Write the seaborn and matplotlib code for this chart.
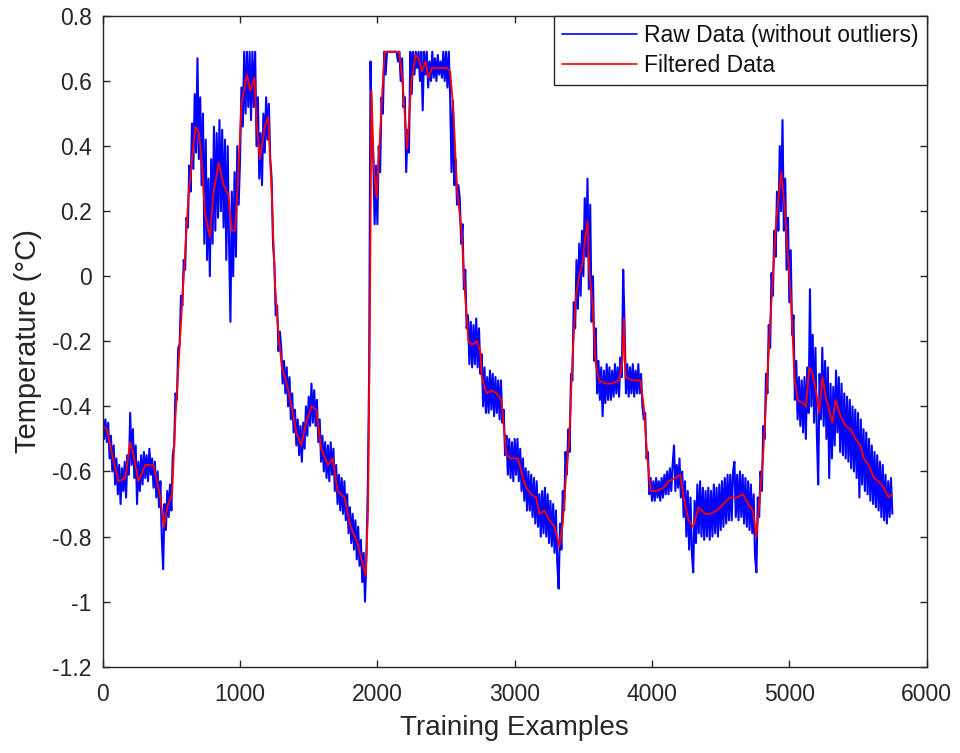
import numpy as np
import pandas as pd
import matplotlib
matplotlib.use("Agg")
import matplotlib.pyplot as plt
import seaborn as sns

# ---------------- data ----------------
raw_step = 10  # sample spacing of the raw series (training-example index)
raw_values = [
    -0.42, -0.50, -0.44, -0.51, -0.45, -0.56, -0.49, -0.60, -0.52, -0.64,   # 0
    -0.56, -0.67, -0.58, -0.70, -0.59, -0.66, -0.57, -0.68, -0.55, -0.61,   # 100
    -0.42, -0.58, -0.47, -0.62, -0.52, -0.70, -0.57, -0.66, -0.55, -0.64,   # 200
    -0.54, -0.62, -0.55, -0.63, -0.53, -0.61, -0.56, -0.65, -0.57, -0.68,   # 300
    -0.60, -0.71, -0.63, -0.80, -0.90, -0.70, -0.78, -0.66, -0.74, -0.64,   # 400
    -0.72, -0.55, -0.52, -0.36, -0.38, -0.22, -0.21, -0.06, -0.09, 0.05,    # 500
    0.02, 0.18, 0.15, 0.34, 0.26, 0.47, 0.33, 0.56, 0.38, 0.67,             # 600
    0.36, 0.55, 0.28, 0.50, 0.10, 0.42, 0.05, 0.30, 0.00, 0.36,             # 700
    0.10, 0.46, 0.14, 0.44, 0.18, 0.48, 0.20, 0.45, 0.15, 0.42,             # 800
    0.05, 0.40, 0.10, -0.14, 0.26, 0.00, 0.32, 0.06, 0.40, 0.22,            # 900
    0.36, 0.58, 0.46, 0.69, 0.50, 0.69, 0.52, 0.69, 0.48, 0.69,             # 1000
    0.52, 0.69, 0.40, 0.55, 0.30, 0.44, 0.28, 0.50, 0.38, 0.55,             # 1100
    0.42, 0.53, 0.36, 0.30, 0.10, 0.04, -0.12, -0.09, -0.23, -0.17,         # 1200
    -0.22, -0.33, -0.26, -0.36, -0.28, -0.40, -0.31, -0.44, -0.36, -0.48,   # 1300
    -0.41, -0.52, -0.44, -0.55, -0.46, -0.57, -0.45, -0.53, -0.40, -0.49,   # 1400
    -0.37, -0.46, -0.33, -0.45, -0.35, -0.46, -0.38, -0.51, -0.44, -0.57,   # 1500
    -0.49, -0.60, -0.51, -0.62, -0.52, -0.63, -0.51, -0.61, -0.53, -0.66,   # 1600
    -0.58, -0.70, -0.61, -0.72, -0.62, -0.73, -0.63, -0.75, -0.67, -0.79,   # 1700
    -0.71, -0.82, -0.73, -0.84, -0.75, -0.87, -0.77, -0.89, -0.81, -0.94,   # 1800
    -0.85, -1.00, -0.86, -0.66, -0.30, 0.66, 0.42, 0.36, 0.16, 0.34,       # 1900
    0.16, 0.40, 0.32, 0.55, 0.50, 0.69, 0.62, 0.69, 0.69, 0.69,             # 2000
    0.69, 0.69, 0.69, 0.69, 0.69, 0.66, 0.69, 0.60, 0.67, 0.52,             # 2100
    0.55, 0.32, 0.45, 0.38, 0.69, 0.56, 0.69, 0.62, 0.69, 0.64,             # 2200
    0.69, 0.60, 0.69, 0.51, 0.69, 0.62, 0.69, 0.58, 0.66, 0.60,             # 2300
    0.69, 0.61, 0.67, 0.60, 0.68, 0.62, 0.66, 0.61, 0.69, 0.60,             # 2400
    0.69, 0.58, 0.69, 0.55, 0.32, 0.54, 0.28, 0.36, 0.22, 0.28,             # 2500
    0.24, 0.10, 0.16, -0.04, 0.02, -0.16, -0.12, -0.27, -0.14, -0.28,       # 2600
    -0.15, -0.27, -0.13, -0.28, -0.16, -0.30, -0.24, -0.40, -0.28, -0.42,   # 2700
    -0.31, -0.42, -0.29, -0.41, -0.30, -0.43, -0.31, -0.42, -0.32, -0.44,   # 2800
    -0.32, -0.45, -0.41, -0.55, -0.49, -0.61, -0.50, -0.62, -0.51, -0.63,   # 2900
    -0.50, -0.61, -0.50, -0.63, -0.53, -0.66, -0.56, -0.69, -0.59, -0.72,   # 3000
    -0.60, -0.72, -0.61, -0.74, -0.62, -0.76, -0.63, -0.77, -0.67, -0.80,   # 3100
    -0.66, -0.79, -0.65, -0.80, -0.67, -0.82, -0.69, -0.83, -0.70, -0.85,   # 3200
    -0.72, -0.88, -0.96, -0.76, -0.84, -0.66, -0.72, -0.54, -0.61, -0.47,   # 3300
    -0.54, -0.30, -0.32, -0.08, -0.16, 0.05, -0.10, 0.10, -0.06, 0.14,      # 3400
    0.00, 0.24, 0.06, 0.30, -0.04, 0.22, -0.14, 0.00, -0.26, -0.16,         # 3500
    -0.36, -0.26, -0.38, -0.28, -0.43, -0.29, -0.39, -0.27, -0.38, -0.28,   # 3600
    -0.38, -0.29, -0.37, -0.27, -0.36, -0.28, -0.37, -0.25, -0.31, 0.02,    # 3700
    -0.15, -0.36, -0.27, -0.37, -0.28, -0.36, -0.27, -0.37, -0.29, -0.36,   # 3800
    -0.27, -0.36, -0.30, -0.40, -0.44, -0.42, -0.56, -0.54, -0.67, -0.62,   # 3900
    -0.69, -0.63, -0.69, -0.62, -0.68, -0.63, -0.69, -0.62, -0.68, -0.61,   # 4000
    -0.67, -0.60, -0.67, -0.59, -0.66, -0.58, -0.52, -0.66, -0.58, -0.65,   # 4100
    -0.56, -0.68, -0.60, -0.74, -0.63, -0.80, -0.66, -0.84, -0.68, -0.85,   # 4200
    -0.91, -0.69, -0.82, -0.64, -0.79, -0.63, -0.80, -0.65, -0.81, -0.66,   # 4300
    -0.80, -0.65, -0.81, -0.66, -0.80, -0.64, -0.79, -0.65, -0.80, -0.64,   # 4400
    -0.78, -0.63, -0.77, -0.62, -0.76, -0.61, -0.75, -0.61, -0.75, -0.60,   # 4500
    -0.57, -0.74, -0.61, -0.75, -0.60, -0.74, -0.61, -0.76, -0.62, -0.77,   # 4600
    -0.63, -0.78, -0.64, -0.79, -0.67, -0.86, -0.91, -0.68, -0.74, -0.60,   # 4700
    -0.66, -0.46, -0.50, -0.30, -0.36, -0.15, -0.22, 0.01, -0.06, 0.14,     # 4800
    0.06, 0.26, 0.14, 0.40, 0.20, 0.48, 0.14, 0.30, 0.02, 0.18,             # 4900
    -0.08, 0.08, -0.18, -0.12, -0.38, -0.26, -0.44, -0.31, -0.46, -0.32,    # 5000
    -0.48, -0.31, -0.50, -0.28, -0.42, -0.04, -0.40, -0.18, -0.45, -0.22,   # 5100
    -0.48, -0.64, -0.30, -0.44, -0.22, -0.46, -0.26, -0.50, -0.28, -0.62,   # 5200
    -0.33, -0.56, -0.34, -0.52, -0.29, -0.48, -0.31, -0.54, -0.33, -0.55,   # 5300
    -0.36, -0.56, -0.37, -0.57, -0.38, -0.59, -0.40, -0.60, -0.41, -0.62,   # 5400
    -0.42, -0.68, -0.44, -0.64, -0.47, -0.66, -0.48, -0.67, -0.50, -0.69,   # 5500
    -0.52, -0.70, -0.54, -0.71, -0.55, -0.72, -0.57, -0.74, -0.58, -0.75,   # 5600
    -0.61, -0.76, -0.63, -0.74, -0.62, -0.73,                               # 5700
]

filtered_x = [
    0, 30, 70, 115, 165, 200, 225, 260, 310, 370, 420, 445, 470, 505, 530,
    555, 590, 625, 660, 675, 700, 720, 745, 780, 805, 845, 880, 915, 940, 965,
    990, 1010, 1050, 1075, 1105, 1120, 1145, 1180, 1205, 1230, 1255, 1280,
    1305, 1340, 1375, 1410, 1445, 1480, 1520, 1555, 1590, 1640, 1675, 1710,
    1760, 1805, 1855, 1890, 1915, 1932, 1947, 1957, 1976, 1995, 2012, 2036,
    2053, 2100, 2157, 2181, 2217, 2246, 2277, 2300, 2325, 2350, 2373, 2398,
    2506, 2530, 2554, 2578, 2614, 2639, 2663, 2690, 2725, 2750, 2760, 2795,
    2830, 2867, 2903, 2940, 2976, 3024, 3060, 3085, 3120, 3156, 3180, 3217,
    3253, 3290, 3325, 3350, 3373, 3397, 3421, 3446, 3470, 3494, 3513, 3530,
    3542, 3566, 3590, 3614, 3660, 3710, 3760, 3785, 3795, 3807, 3855, 3915,
    3940, 3964, 3990, 4030, 4085, 4120, 4170, 4205, 4230, 4266, 4300, 4338,
    4386, 4422, 4470, 4520, 4567, 4615, 4663, 4700, 4735, 4760, 4784, 4808,
    4832, 4856, 4880, 4904, 4928, 4940, 4964, 4988, 5013, 5037, 5061, 5097,
    5121, 5145, 5169, 5193, 5217, 5241, 5265, 5289, 5313, 5337, 5373, 5409,
    5446, 5482, 5518, 5542, 5578, 5614, 5650, 5687, 5723, 5747,
]
filtered_y = [
    -0.46, -0.47, -0.55, -0.63, -0.62, -0.51, -0.55, -0.63, -0.58, -0.58,
    -0.68, -0.77, -0.71, -0.67, -0.43, -0.25, 0.00, 0.25, 0.40, 0.46,
    0.44, 0.36, 0.19, 0.12, 0.25, 0.35, 0.28, 0.25, 0.14, 0.14,
    0.34, 0.53, 0.62, 0.57, 0.61, 0.47, 0.36, 0.46, 0.49, 0.26,
    -0.03, -0.18, -0.28, -0.33, -0.40, -0.48, -0.52, -0.45, -0.40, -0.41,
    -0.53, -0.58, -0.56, -0.66, -0.68, -0.77, -0.82, -0.88, -0.92, -0.72,
    -0.06, 0.57, 0.32, 0.24, 0.38, 0.57, 0.69, 0.69, 0.69, 0.61,
    0.39, 0.59, 0.68, 0.67, 0.63, 0.66, 0.61, 0.64, 0.64, 0.63,
    0.51, 0.28, 0.13, -0.06, -0.20, -0.21, -0.20, -0.23, -0.31, -0.36,
    -0.35, -0.36, -0.38, -0.55, -0.56, -0.56, -0.62, -0.65, -0.67, -0.68,
    -0.73, -0.72, -0.75, -0.77, -0.83, -0.76, -0.62, -0.50, -0.25, -0.06,
    0.00, 0.04, 0.12, 0.17, 0.02, -0.08, -0.27, -0.32, -0.33, -0.33,
    -0.32, -0.26, -0.13, -0.31, -0.32, -0.32, -0.40, -0.55, -0.66, -0.66,
    -0.65, -0.63, -0.62, -0.61, -0.68, -0.75, -0.77, -0.71, -0.73, -0.73,
    -0.72, -0.70, -0.68, -0.68, -0.67, -0.70, -0.72, -0.80, -0.68, -0.56,
    -0.37, -0.18, 0.00, 0.17, 0.27, 0.32, 0.22, 0.07, -0.08, -0.31,
    -0.38, -0.39, -0.40, -0.28, -0.30, -0.35, -0.42, -0.31, -0.37, -0.41,
    -0.45, -0.38, -0.43, -0.46, -0.47, -0.50, -0.52, -0.56, -0.58, -0.62,
    -0.63, -0.65, -0.68, -0.67,
]

series_labels = ["Raw Data (without outliers)", "Filtered Data"]
x_label = "Training Examples"
y_label = "Temperature (°C)"
x_ticks = [0, 1000, 2000, 3000, 4000, 5000, 6000]
y_ticks = [0.8, 0.6, 0.4, 0.2, 0, -0.2, -0.4, -0.6, -0.8, -1, -1.2]

# ---------------- styling ----------------
sns.set_theme(style="ticks")
plt.rcParams["font.family"] = ["Liberation Sans", "DejaVu Sans"]
plt.rcParams["axes.unicode_minus"] = False

axis_color = "#262626"
tick_fs = 16.5
label_fs = 20

raw_df = pd.DataFrame({
    "example": np.arange(len(raw_values)) * raw_step,
    "temp": raw_values,
})
filt_df = pd.DataFrame({"example": filtered_x, "temp": filtered_y})

fig = plt.figure(figsize=(9.6, 7.53), dpi=100)
ax = fig.add_axes([0.107, 0.1146, 0.9653 - 0.107, 0.9788 - 0.1146])

sns.lineplot(data=raw_df, x="example", y="temp", ax=ax, color="#0000FF",
             linewidth=1.5, sort=False, estimator=None, label=series_labels[0])
sns.lineplot(data=filt_df, x="example", y="temp", ax=ax, color="#FF0000",
             linewidth=1.3, sort=False, estimator=None, label=series_labels[1])

ax.set_xlim(0, 6000)
ax.set_ylim(-1.2, 0.8)
ax.set_xticks(x_ticks)
ax.set_xticklabels([f"{v:g}" for v in x_ticks])
ax.set_yticks(y_ticks)
ax.set_yticklabels([f"{v:g}" for v in y_ticks])

ax.set_xlabel(x_label, fontsize=label_fs, color=axis_color, labelpad=6)
ax.set_ylabel(y_label, fontsize=21, color=axis_color, labelpad=7)

for side in ["top", "right", "left", "bottom"]:
    ax.spines[side].set_visible(True)
    ax.spines[side].set_color(axis_color)
    ax.spines[side].set_linewidth(1.0)

ax.tick_params(axis="both", which="both", direction="in", length=5, width=1,
               color=axis_color, labelcolor=axis_color, labelsize=tick_fs,
               top=True, right=True)
ax.tick_params(axis="x", pad=12)
ax.tick_params(axis="y", pad=8)
ax.grid(False)

leg = ax.legend(loc="upper right", borderaxespad=0, fontsize=tick_fs,
                frameon=True, fancybox=False, framealpha=1, edgecolor=axis_color,
                handlelength=3.3, handletextpad=0.3, labelspacing=0.3,
                borderpad=0.35)
leg.get_frame().set_linewidth(1.0)
for line in leg.get_lines():
    line.set_linewidth(1.2)
for t in leg.get_texts():
    t.set_color("#111111")

fig.savefig("out.png", dpi=100, facecolor="white")
